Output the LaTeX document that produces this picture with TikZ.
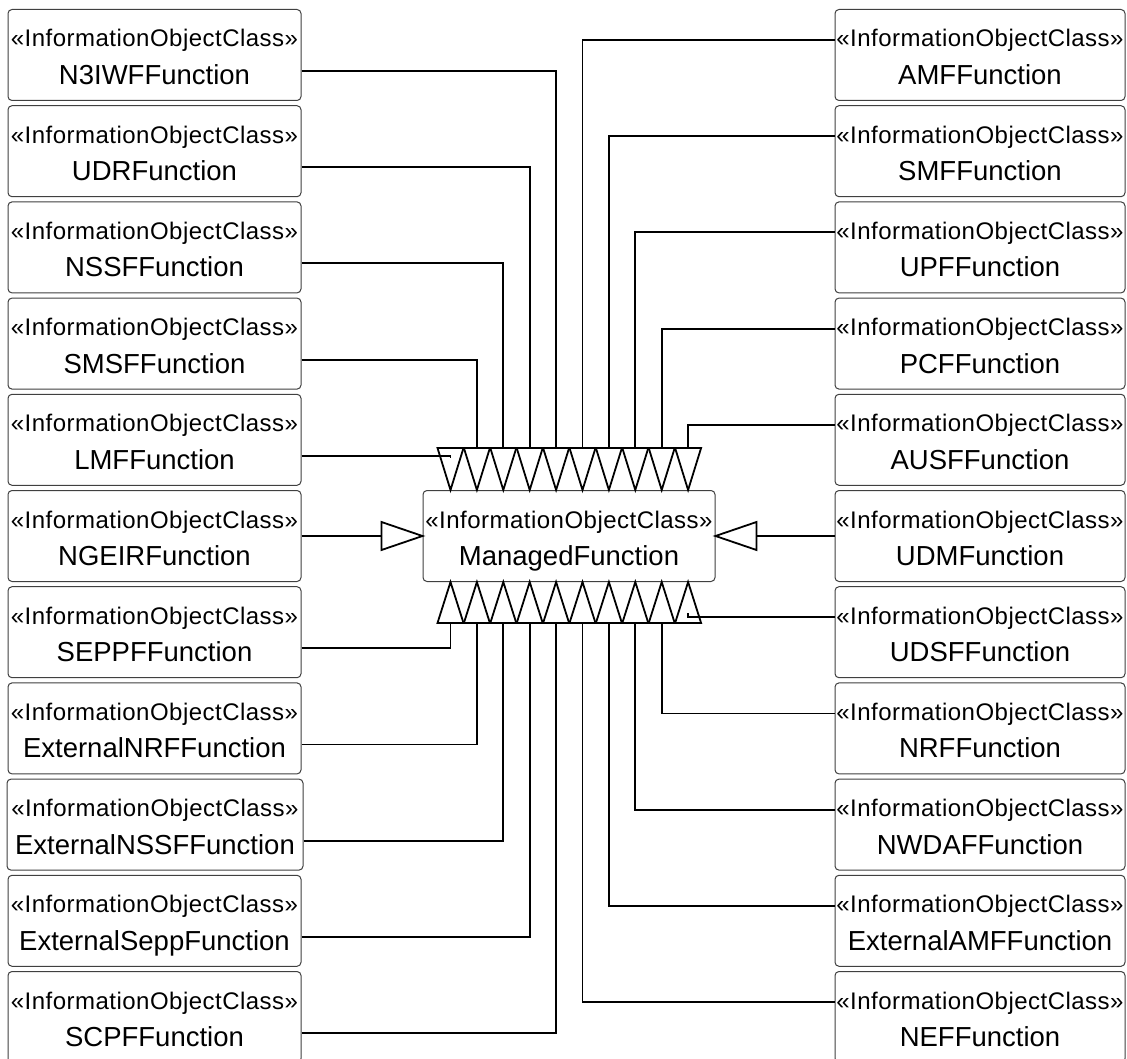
\documentclass[tikz,border=0pt]{standalone}
\usepackage{fontspec}
\setmainfont{Liberation Sans}
\newfontfamily\stfont[LetterSpace=2.0]{Liberation Sans}
\tikzset{
  iocbox/.style={draw=black!75, line width=1pt, rounded corners=4pt, minimum height=91pt, inner sep=0pt, fill=white},
  stereo/.style={anchor=base, inner sep=0pt, font=\stfont\fontsize{24}{28}\selectfont},
  ioname/.style={anchor=base, inner sep=0pt, font=\fontsize{27.5}{32}\selectfont},
  conn/.style={line width=1.8pt, black},
  gen/.style={line width=1.8pt, black, line join=miter},
}
\newcommand\IOC[5]{%
  \node[iocbox, minimum width=#4pt, anchor=north] (#1) at (#2,#3) {};
  \node[stereo] (#1s) at ([yshift=-38pt]#1.north) {«InformationObjectClass»};
  \node[ioname] (#1n) at ([yshift=-75.5pt]#1.north) {#5};
}
\begin{document}
\begin{tikzpicture}[x=1pt,y=-1pt]
\useasboundingbox (0,0) rectangle (1127,1059);
% left column
\IOC{n3iwf}{154.5}{9}{293}{N3IWFFunction}
\IOC{udr}{154.5}{105.2}{293}{UDRFunction}
\IOC{nssf}{154.5}{201.4}{293}{NSSFFunction}
\IOC{smsf}{154.5}{297.6}{293}{SMSFFunction}
\IOC{lmf}{154.5}{393.8}{293}{LMFFunction}
\IOC{ngeir}{154.5}{490}{293}{NGEIRFunction}
\IOC{seppf}{154.5}{586.2}{293}{SEPPFFunction}
\IOC{extnrf}{154.5}{682.4}{293}{ExternalNRFFunction}
\IOC{extnssf}{155}{778.6}{296}{ExternalNSSFFunction}
\IOC{extsepp}{154.5}{874.8}{293}{ExternalSeppFunction}
\IOC{scpf}{154.5}{971}{293}{SCPFFunction}
% right column
\IOC{amf}{980}{9}{290}{AMFFunction}
\IOC{smf}{980}{105.2}{290}{SMFFunction}
\IOC{upf}{980}{201.4}{290}{UPFFunction}
\IOC{pcf}{980}{297.6}{290}{PCFFunction}
\IOC{ausf}{980}{393.8}{290}{AUSFFunction}
\IOC{udm}{980}{490}{290}{UDMFunction}
\IOC{udsf}{980}{586.2}{290}{UDSFFunction}
\IOC{nrf}{980}{682.4}{290}{NRFFunction}
\IOC{nwdaf}{980}{778.6}{290}{NWDAFFunction}
\IOC{extamf}{980}{874.8}{290}{ExternalAMFFunction}
\IOC{nef}{980}{971}{290}{NEFFunction}
% centre
\IOC{mf}{569}{490}{292}{ManagedFunction}
% generalisation triangles
\foreach \k in {0,...,9} {
  \path (mf.north west) ++({28+26.4*\k},0) coordinate (ttip\k) ++(0,-42) coordinate (ta\k);
  \path (mf.south west) ++({28+26.4*\k},0) coordinate (btip\k) ++(0,41) coordinate (tb\k);
  \draw[gen] (ttip\k) -- ++(-13,-42) -- ++(26,0) -- cycle;
  \draw[gen] (btip\k) -- ++(-13,41) -- ++(26,0) -- cycle;
}
\draw[gen] (mf.west) -- ++(-41,-14) -- ++(0,28) -- cycle;
\draw[gen] (mf.east) -- ++(41,-14) -- ++(0,28) -- cycle;
\draw[conn] (ngeir.east) -- ([xshift=-41pt]mf.west);
\draw[conn] (udm.west) -- ([xshift=41pt]mf.east);
% top connectors
\draw[conn] ([yshift=-16pt]n3iwf.east) -| (ta4);
\draw[conn] ([yshift=-16pt]udr.east) -| (ta3);
\draw[conn] ([yshift=-16pt]nssf.east) -| (ta2);
\draw[conn] ([yshift=-16pt]smsf.east) -| (ta1);
\draw[conn] ([yshift=-16pt]lmf.east) -| ([yshift=-10pt]ta0);
\draw[conn] ([yshift=15pt]amf.west) -| (ta5);
\draw[conn] ([yshift=15pt]smf.west) -| (ta6);
\draw[conn] ([yshift=15pt]upf.west) -| (ta7);
\draw[conn] ([yshift=15pt]pcf.west) -| (ta8);
\draw[conn] ([yshift=15pt]ausf.west) -| (ta9);
% bottom connectors
\draw[conn] ([yshift=-16pt]seppf.east) -| (tb0);
\draw[conn] ([yshift=-16pt]extnrf.east) -| (tb1);
\draw[conn] ([yshift=-16pt]extnssf.east) -| (tb2);
\draw[conn] ([yshift=-16pt]extsepp.east) -| (tb3);
\draw[conn] ([yshift=-16pt]scpf.east) -| (tb4);
\draw[conn] ([yshift=15pt]nef.west) -| (tb5);
\draw[conn] ([yshift=15pt]extamf.west) -| (tb6);
\draw[conn] ([yshift=15pt]nwdaf.west) -| (tb7);
\draw[conn] ([yshift=15pt]nrf.west) -| (tb8);
\draw[conn] ([yshift=15pt]udsf.west) -| ([yshift=10pt]tb9);
\end{tikzpicture}
\end{document}
